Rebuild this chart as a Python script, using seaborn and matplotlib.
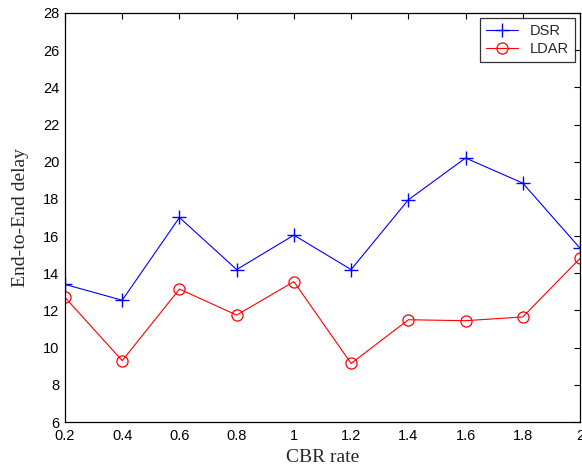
import pandas as pd
import seaborn as sns
import matplotlib.pyplot as plt

cbr_rate = [0.2, 0.4, 0.6, 0.8, 1.0, 1.2, 1.4, 1.6, 1.8, 2.0]
dsr_delay = [13.4, 12.55, 17.0, 14.2, 16.05, 14.2, 17.95, 20.2, 18.85, 15.35]
ldar_delay = [12.7, 9.3, 13.15, 11.75, 13.55, 9.15, 11.5, 11.45, 11.65, 14.8]

df = pd.DataFrame({'CBR': cbr_rate, 'DSR': dsr_delay, 'LDAR': ldar_delay})

sns.set_style('white')
plt.rcParams['font.family'] = ['Liberation Sans', 'DejaVu Sans']

fig = plt.figure(figsize=(5.82, 4.69), dpi=100)
ax = fig.add_axes([65 / 582, 47 / 469, 515 / 582, 409 / 469])

sns.lineplot(data=df, x='CBR', y='DSR', ax=ax, color='#0000ff', linewidth=0.8,
             marker='+', markersize=10, markeredgewidth=1.0,
             markeredgecolor='#0000ff', label='DSR')
sns.lineplot(data=df, x='CBR', y='LDAR', ax=ax, color='#ff0000', linewidth=0.8,
             marker='o', markersize=8, markerfacecolor='none', markeredgecolor='#ff0000',
             markeredgewidth=0.9, label='LDAR')

ax.set_xlim(0.2, 2.0)
ax.set_ylim(6, 28)
ax.set_xticks(cbr_rate)
ax.set_xticklabels(['0.2', '0.4', '0.6', '0.8', '1', '1.2', '1.4', '1.6', '1.8', '2'])
ax.set_yticks(range(6, 29, 2))
ax.tick_params(direction='in', length=4, width=0.8, top=True, right=True,
               labelsize=10.5, colors='black')
ax.tick_params(axis='x', pad=5)
ax.tick_params(axis='y', pad=4)

for s in ax.spines.values():
    s.set_visible(True)
    s.set_color('black')
    s.set_linewidth(0.9)

ax.set_xlabel('CBR rate', fontsize=14, family='Liberation Serif', labelpad=4)
ax.set_ylabel('End-to-End delay', fontsize=14, family='Liberation Serif', labelpad=10)

leg = ax.legend(loc='upper right', fontsize=10.5, frameon=True, fancybox=False,
                edgecolor='black', handlelength=2.2, borderpad=0.4,
                labelspacing=0.3, borderaxespad=0.35)
leg.get_frame().set_linewidth(0.9)

fig.savefig('out.png', dpi=100)
